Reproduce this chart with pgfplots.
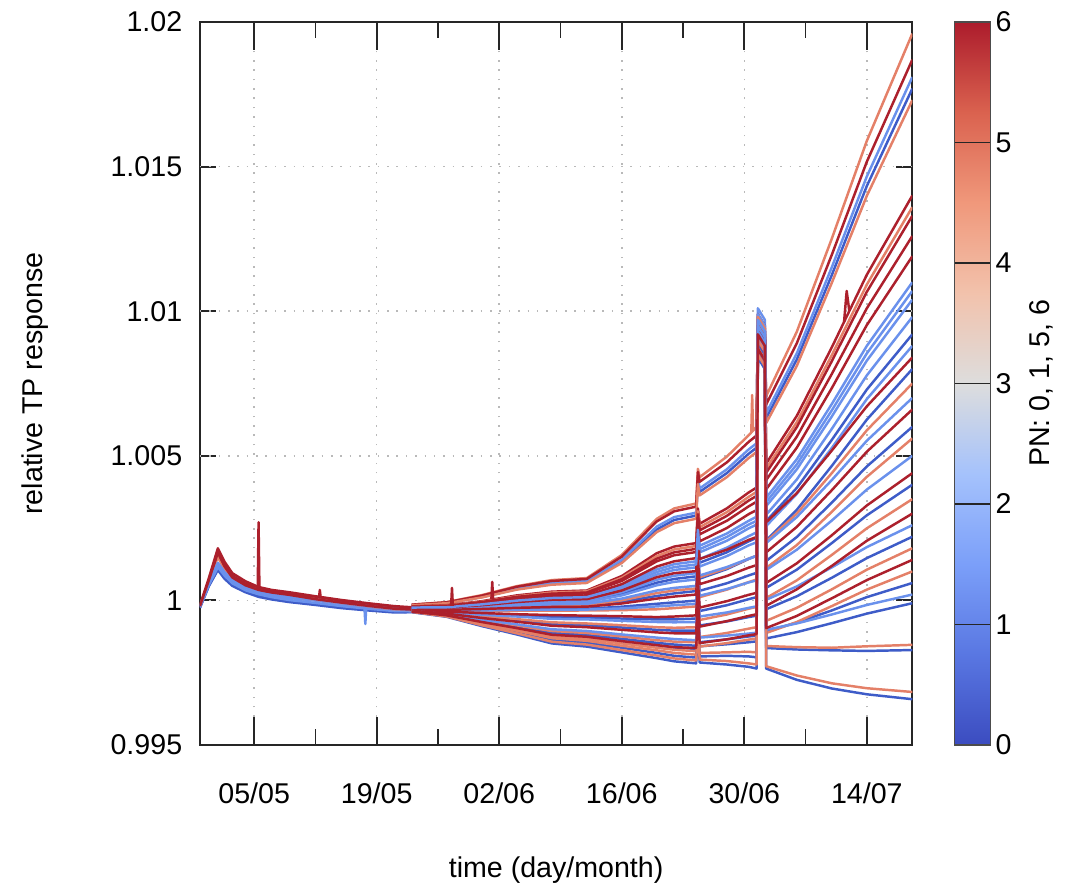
\documentclass[border=0pt]{standalone}
\usepackage{fontspec}
\setmainfont{Liberation Sans}
\usepackage{pgfplots}
\usepackage{pgfplotstable}
\pgfplotsset{compat=1.18}

\definecolor{cR}{RGB}{172,32,44}
\definecolor{cS}{RGB}{228,128,104}
\definecolor{cL}{RGB}{106,145,236}
\definecolor{cD}{RGB}{62,92,200}

% early part (all channels nearly together), columns by colour
\pgfplotstableread{
t     r1      r2      r3      s1      s2      l1      l2      l3      d1      d2
-2.2  0.99982 0.99978 0.99980 0.99981 0.99979 0.99977 0.99976 0.99978 0.99975 0.99974
-1.2  1.00075 1.00070 1.00068 1.00066 1.00062 1.00055 1.00052 1.00058 1.00050 1.00048
-0.15 1.00180 1.00170 1.00165 1.00160 1.00150 1.00125 1.00115 1.00130 1.00110 1.00105
0.6   1.00134 1.00124 1.00118 1.00117 1.00107 1.00093 1.00086 1.00098 1.00080 1.00075
1.5   1.00094 1.00085 1.00079 1.00080 1.00073 1.00066 1.00059 1.00070 1.00054 1.00050
3     1.00066 1.00058 1.00052 1.00056 1.00048 1.00043 1.00035 1.00047 1.00031 1.00028
4.5   1.00046 1.00045 1.00036 1.00040 1.00032 1.00028 1.00021 1.00031 1.00016 1.00012
6     1.00036 1.00031 1.00027 1.00031 1.00023 1.00018 1.00011 1.00022 1.00006 1.00003
8     1.00028 1.00021 1.00019 1.00022 1.00014 1.00008 1.00001 1.00012 0.99997 0.99994
11    1.00014 1.00013 1.00004 1.00009 1.00002 0.99999 0.99991 1.00002 0.99988 0.99984
14    1.00001 0.99999 0.99992 0.99996 0.99990 0.99987 0.99980 0.99990 0.99977 0.99973
17    0.99990 0.99988 0.99981 0.99985 0.99979 0.99976 0.99971 0.99980 0.99968 0.99965
20    0.99980 0.99976 0.99971 0.99976 0.99969 0.99967 0.99963 0.99970 0.99961 0.99958
22    0.99976 0.99971 0.99968 0.99972 0.99966 0.99965 0.99962 0.99967 0.99960 0.99959
}\tabE

% PN 6
\pgfplotstableread{
t     s1      s2      s3      s4      s5      s6      s7      s8      s9      s10
22    0.99985 0.99979 0.99978 0.99977 0.99976 0.99974 0.99970 0.99967 0.99964 0.99961
26    0.99993 0.99983 0.99981 0.99980 0.99978 0.99975 0.99967 0.99961 0.99954 0.99948
30    1.00016 0.99997 0.99994 0.99992 0.99989 0.99983 0.99970 0.99956 0.99939 0.99925
34    1.00047 1.00017 1.00012 1.00009 1.00004 0.99994 0.99974 0.99952 0.99926 0.99904
38    1.00067 1.00030 1.00023 1.00020 1.00014 1.00002 0.99977 0.99949 0.99912 0.99881
42    1.00074 1.00034 1.00027 1.00024 1.00017 1.00004 0.99978 0.99947 0.99907 0.99874
46    1.00151 1.00084 1.00073 1.00067 1.00056 1.00034 0.99989 0.99945 0.99898 0.99859
50    1.00273 1.00163 1.00144 1.00135 1.00117 1.00080 1.00006 0.99942 0.99889 0.99845
52    1.00308 1.00186 1.00166 1.00156 1.00135 1.00094 1.00013 0.99944 0.99886 0.99838
54.5  1.00324 1.00198 1.00178 1.00167 1.00146 1.00101 1.00020 0.99948 0.99886 0.99835
54.7  1.00444 1.00318 1.00298 1.00287 1.00266 1.00221 1.00140 1.00068 1.00006 0.99955
54.9  1.00410 1.00265 1.00242 1.00228 1.00204 1.00143 1.00056 0.99975 0.99909 0.99852
58    1.00477 1.00318 1.00292 1.00275 1.00250 1.00175 1.00084 0.99997 0.99928 0.99865
60.5  1.00548 1.00373 1.00345 1.00325 1.00298 1.00209 1.00113 1.00019 0.99946 0.99879
61.4  1.00570 1.00390 1.00361 1.00341 1.00312 1.00219 1.00122 1.00026 0.99952 0.99883
61.55 1.00970 1.00940 1.00990 1.00910 1.00880 1.00950 1.00900 1.00930 1.00870 1.00920
62.35 1.00930 1.00900 1.00950 1.00870 1.00840 1.00910 1.00860 1.00890 1.00830 1.00880
62.5  1.00677 1.00473 1.00441 1.00416 1.00384 1.00270 1.00166 1.00060 0.99981 0.99904
66    1.00889 1.00638 1.00599 1.00566 1.00528 1.00371 1.00254 1.00128 1.00038 0.99946
70    1.01195 1.00875 1.00827 1.00783 1.00734 1.00518 1.00381 1.00225 1.00119 1.00007
74    1.01517 1.01126 1.01067 1.01010 1.00952 1.00671 1.00514 1.00328 1.00206 1.00070
79.2  1.01870 1.01400 1.01330 1.01260 1.01190 1.00840 1.00660 1.00440 1.00300 1.00140
}\tabR

% PN 5
\pgfplotstableread{
t     s1      s2      s3      s4      s5      s6      s7      s8      s9      s10
22    0.99985 0.99983 0.99978 0.99971 0.99968 0.99965 0.99962 0.99961 0.99960 0.99960
26    0.99994 0.99990 0.99982 0.99969 0.99964 0.99956 0.99951 0.99947 0.99946 0.99944
30    1.00018 1.00010 0.99995 0.99973 0.99963 0.99945 0.99931 0.99922 0.99919 0.99914
34    1.00049 1.00037 1.00014 0.99979 0.99964 0.99935 0.99913 0.99900 0.99895 0.99886
38    1.00070 1.00054 1.00027 0.99983 0.99964 0.99924 0.99894 0.99875 0.99869 0.99857
42    1.00077 1.00060 1.00031 0.99984 0.99965 0.99920 0.99887 0.99867 0.99860 0.99847
46    1.00157 1.00129 1.00078 1.00000 0.99966 0.99914 0.99875 0.99851 0.99843 0.99828
50    1.00282 1.00236 1.00153 1.00025 0.99969 0.99907 0.99862 0.99836 0.99827 0.99809
52    1.00318 1.00267 1.00176 1.00034 0.99973 0.99905 0.99857 0.99829 0.99818 0.99799
54.5  1.00335 1.00282 1.00188 1.00041 0.99979 0.99907 0.99855 0.99824 0.99812 0.99792
54.7  1.00455 1.00402 1.00308 1.00161 1.00099 1.00027 0.99975 0.99944 0.99932 0.99912
54.9  1.00426 1.00363 1.00253 1.00080 1.00011 0.99932 0.99873 0.99840 0.99818 0.99795
58    1.00497 1.00426 1.00305 1.00111 1.00037 0.99951 0.99887 0.99852 0.99820 0.99790
60.5  1.00571 1.00492 1.00358 1.00144 1.00063 0.99971 0.99902 0.99864 0.99822 0.99782
61.4  1.00600 1.00513 1.00375 1.00154 1.00072 0.99977 0.99907 0.99868 0.99820 0.99778
61.55 1.00950 1.00890 1.00960 1.00910 1.00980 1.00880 1.00930 1.00900 1.00870 1.00850
62.35 1.00910 1.00850 1.00920 1.00870 1.00940 1.00840 1.00890 1.00860 1.00830 1.00810
62.5  1.00706 1.00613 1.00456 1.00203 1.00112 1.00008 0.99929 0.99887 0.99842 0.99772
66    1.00929 1.00811 1.00616 1.00300 1.00191 1.00069 0.99974 0.99925 0.99838 0.99740
70    1.01251 1.01098 1.00848 1.00440 1.00306 1.00157 1.00038 0.99980 0.99836 0.99713
74    1.01589 1.01399 1.01092 1.00588 1.00427 1.00249 1.00106 1.00037 0.99841 0.99696
79.2  1.01960 1.01730 1.01360 1.00750 1.00560 1.00350 1.00180 1.00100 0.99846 0.99683
}\tabS

% PN 1
\pgfplotstableread{
t     s1      s2      s3      s4      s5      s6      s7      s8      s9      s10
22    0.99984 0.99976 0.99975 0.99974 0.99973 0.99972 0.99969 0.99966 0.99963 0.99975
26    0.99992 0.99977 0.99975 0.99974 0.99972 0.99970 0.99965 0.99958 0.99952 0.99976
30    1.00013 0.99987 0.99984 0.99981 0.99978 0.99975 0.99965 0.99950 0.99933 0.99986
34    1.00042 1.00002 0.99997 0.99992 0.99987 0.99982 0.99967 0.99944 0.99917 0.99999
38    1.00061 1.00011 1.00005 0.99999 0.99992 0.99986 0.99968 0.99936 0.99900 1.00008
42    1.00067 1.00014 1.00008 1.00001 0.99994 0.99988 0.99968 0.99934 0.99894 1.00011
46    1.00140 1.00051 1.00039 1.00028 1.00017 1.00006 0.99972 0.99929 0.99882 1.00045
50    1.00255 1.00107 1.00089 1.00071 1.00052 1.00034 0.99979 0.99925 0.99871 1.00098
52    1.00288 1.00125 1.00105 1.00085 1.00064 1.00043 0.99983 0.99924 0.99866 1.00115
54.5  1.00303 1.00135 1.00114 1.00094 1.00072 1.00050 0.99988 0.99925 0.99862 1.00124
54.7  1.00423 1.00255 1.00234 1.00214 1.00192 1.00170 1.00108 1.00045 0.99982 1.00244
54.9  1.00387 1.00189 1.00166 1.00143 1.00117 1.00086 1.00016 0.99944 0.99871 1.00177
58    1.00453 1.00231 1.00206 1.00182 1.00153 1.00115 1.00039 0.99958 0.99878 1.00219
60.5  1.00522 1.00275 1.00249 1.00222 1.00190 1.00144 1.00062 0.99974 0.99885 1.00262
61.4  1.00543 1.00289 1.00262 1.00235 1.00201 1.00154 1.00069 0.99979 0.99888 1.00275
61.55 1.01010 1.00960 1.00920 1.00990 1.00940 1.00890 1.00970 1.00910 1.00950 1.00930
62.35 1.00970 1.00920 1.00880 1.00950 1.00900 1.00850 1.00930 1.00870 1.00910 1.00890
62.5  1.00647 1.00355 1.00326 1.00296 1.00257 1.00198 1.00105 1.00002 0.99898 1.00340
66    1.00854 1.00488 1.00453 1.00418 1.00368 1.00288 1.00175 1.00048 0.99920 1.00470
70    1.01152 1.00679 1.00636 1.00593 1.00527 1.00416 1.00276 1.00114 0.99951 1.00657
74    1.01466 1.00880 1.00829 1.00778 1.00696 1.00552 1.00383 1.00184 0.99984 1.00854
79.2  1.01810 1.01100 1.01040 1.00980 1.00880 1.00700 1.00500 1.00260 1.00020 1.01070
}\tabL

% PN 0
\pgfplotstableread{
t     s1      s2      s3      s4      s5      s6      s7      s8      s9      s10
22    0.99983 0.99973 0.99971 0.99969 0.99966 0.99964 0.99962 0.99961 0.99960 0.99959
26    0.99991 0.99973 0.99968 0.99966 0.99960 0.99955 0.99950 0.99948 0.99945 0.99943
30    1.00011 0.99979 0.99971 0.99967 0.99953 0.99942 0.99928 0.99925 0.99917 0.99911
34    1.00039 0.99989 0.99977 0.99969 0.99948 0.99930 0.99908 0.99904 0.99891 0.99882
38    1.00058 0.99996 0.99980 0.99971 0.99943 0.99918 0.99888 0.99881 0.99863 0.99851
42    1.00064 0.99998 0.99981 0.99971 0.99941 0.99914 0.99880 0.99874 0.99853 0.99840
46    1.00135 1.00023 0.99995 0.99978 0.99937 0.99906 0.99867 0.99859 0.99836 0.99820
50    1.00245 1.00061 1.00015 0.99988 0.99934 0.99898 0.99853 0.99845 0.99818 0.99800
52    1.00278 1.00074 1.00024 0.99993 0.99934 0.99895 0.99847 0.99837 0.99808 0.99789
54.5  1.00293 1.00083 1.00032 0.99999 0.99937 0.99895 0.99843 0.99832 0.99802 0.99782
54.7  1.00413 1.00203 1.00152 1.00119 1.00057 1.00015 0.99963 0.99952 0.99922 0.99902
54.9  1.00375 1.00130 1.00075 1.00033 0.99963 0.99913 0.99855 0.99841 0.99806 0.99785
58    1.00440 1.00166 1.00108 1.00059 0.99983 0.99927 0.99865 0.99848 0.99808 0.99778
60.5  1.00507 1.00204 1.00143 1.00086 1.00004 0.99942 0.99875 0.99855 0.99806 0.99770
61.4  1.00528 1.00216 1.00154 1.00095 1.00011 0.99947 0.99878 0.99858 0.99803 0.99764
61.55 1.00980 1.00900 1.00960 1.00930 1.00870 1.00940 1.00890 1.00920 1.00860 1.00840
62.35 1.00940 1.00860 1.00920 1.00890 1.00830 1.00900 1.00850 1.00880 1.00820 1.00800
62.5  1.00630 1.00274 1.00207 1.00136 1.00043 0.99969 0.99893 0.99868 0.99835 0.99764
66    1.00833 1.00389 1.00313 1.00219 1.00106 1.00014 0.99923 0.99890 0.99830 0.99725
70    1.01125 1.00555 1.00465 1.00338 1.00198 1.00078 0.99965 0.99921 0.99827 0.99695
74    1.01433 1.00729 1.00625 1.00463 1.00294 1.00146 1.00011 0.99954 0.99825 0.99675
79.2  1.01770 1.00920 1.00800 1.00600 1.00400 1.00220 1.00060 0.99990 0.99828 0.99658
}\tabD

\begin{document}
\begin{tikzpicture}
\useasboundingbox (-76.9pt,-56.5pt) rectangle (335.8pt,286.5pt);
\begin{axis}[
  scale only axis,
  width=274pt, height=278pt,
  xmin=-2.2, xmax=79.2,
  ymin=0.995, ymax=1.02,
  % short ticks between the dates
  xtick={11,25,39,53,67},
  xticklabels={{},{},{},{},{}},
  % long ticks with labels and grid at the dates
  extra x ticks={4,18,32,46,60,74},
  extra x tick labels={05/05,19/05,02/06,16/06,30/06,14/07},
  extra x tick style={major tick length=10.8pt, grid=major},
  ytick={0.995,1,1.005,1.01,1.015,1.02},
  yticklabels={0.995,1,1.005,1.01,1.015,1.02},
  % horizontal grid only inside the frame
  extra y ticks={1,1.005,1.01,1.015},
  extra y tick labels={{},{},{},{}},
  extra y tick style={major tick length=0pt, grid=major},
  major tick length=6.3pt,
  major grid style={gray!55, line width=0.6pt, dash pattern=on 0.6pt off 3pt},
  tick style={black!85, line width=0.7pt},
  axis line style={black!85, line width=0.8pt},
  tick label style={font=\fontsize{11}{13}\selectfont},
  label style={font=\fontsize{11}{13}\selectfont},
  xticklabel style={yshift=-11pt},
  yticklabel style={xshift=-3.3pt},
  xlabel={time (day/month)},
  ylabel={relative TP response},
  xlabel style={at={(axis description cs:0.5,-0.173)}, anchor=center},
  ylabel style={at={(axis description cs:-0.232,0.5)}, anchor=center},
  no markers,
  every axis plot/.append style={line width=0.95pt, line join=round},
  colormap={coolwarm}{rgb255=(59,76,192) rgb255=(89,119,226) rgb255=(123,159,249)
    rgb255=(165,194,252) rgb255=(221,221,221) rgb255=(242,194,172)
    rgb255=(240,152,123) rgb255=(218,98,79) rgb255=(172,28,44)},
  point meta min=0, point meta max=6,
  colorbar,
  colorbar shift/.style={xshift=15.8pt},
  colorbar style={
    width=13.8pt,
    ytick={0,1,2,3,4,5,6},
    yticklabels={0,1,2,3,4,5,6},
    yticklabel style={font=\fontsize{11}{13}\selectfont, xshift=-1.5pt},
    ylabel={PN: 0, 1, 5, 6},
    ylabel style={font=\fontsize{11}{13}\selectfont},
    extra y ticks={},
    major tick length=0pt,
    ymajorgrids,
    major grid style={black!85, line width=0.6pt, dash pattern=},
    axis on top,
    axis line style={black!70, line width=0.6pt},
  },
]

% early part
\addplot[cD] table[x=t, y=d1] {\tabE};
\addplot[cL] table[x=t, y=l1] {\tabE};
\addplot[cS] table[x=t, y=s1] {\tabE};
\addplot[cR] table[x=t, y=r1] {\tabE};
\addplot[cD] table[x=t, y=d2] {\tabE};
\addplot[cL] table[x=t, y=l2] {\tabE};
\addplot[cS] table[x=t, y=s2] {\tabE};
\addplot[cR] table[x=t, y=r2] {\tabE};
\addplot[cL] table[x=t, y=l3] {\tabE};
\addplot[cR] table[x=t, y=r3] {\tabE};

% later part, interleaved by colour
\pgfplotsinvokeforeach{1,...,10}{
  \addplot[cD] table[x=t, y=s#1] {\tabD};
  \addplot[cL] table[x=t, y=s#1] {\tabL};
  \addplot[cS] table[x=t, y=s#1] {\tabS};
  \addplot[cR] table[x=t, y=s#1] {\tabR};
}

% single glitches
\addplot[cR] coordinates {(4.4,1.00037) (4.5,1.00270) (4.6,1.00036)};
\addplot[cR] coordinates {(11.4,1.00008) (11.5,1.00036) (11.6,1.00008)};
\addplot[cL] coordinates {(16.6,0.99976) (16.7,0.99918) (16.8,0.99976)};
\addplot[cR] coordinates {(26.5,0.99981) (26.6,1.00043) (26.7,0.99981)};
\addplot[cR] coordinates {(31.1,1.00003) (31.2,1.00064) (31.3,1.00005)};
\addplot[cS] coordinates {(60.8,1.00581) (60.9,1.00710) (61.0,1.00587)};
\addplot[cR] coordinates {(71.4,1.00963) (71.7,1.01070) (72.0,1.01001)};

\end{axis}
\end{tikzpicture}
\end{document}
